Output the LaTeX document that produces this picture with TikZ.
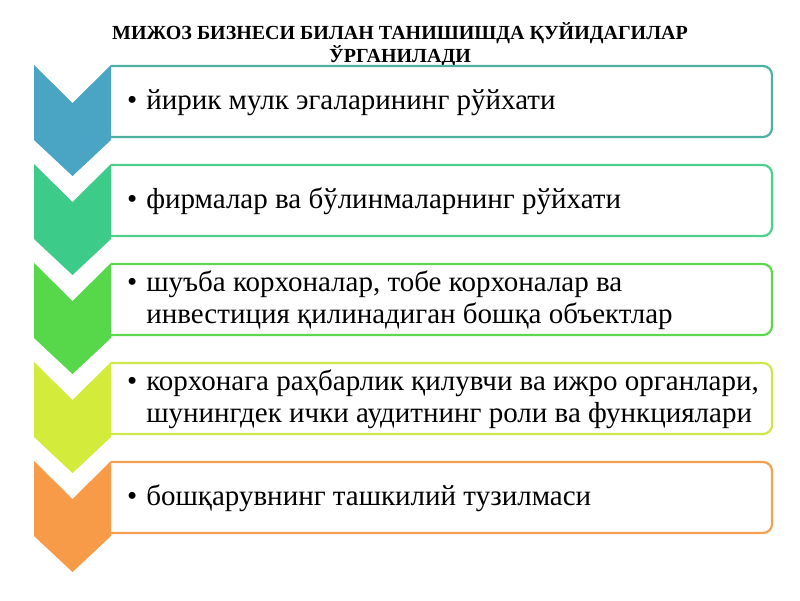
\documentclass[tikz,border=0pt]{standalone}
\usepackage{fontspec}
\setmainfont{Liberation Serif}
\begin{document}
\begin{tikzpicture}[x=1pt,y=-1pt,
  itembox/.style={draw=#1,line width=2.2pt,fill=white,rounded corners=9pt},
  itemtext/.style={anchor=west,inner sep=0pt,font=\fontsize{29}{32}\selectfont},
]
\definecolor{cA}{HTML}{4AA5C4}\definecolor{bA}{HTML}{4FB0A2}
\definecolor{cB}{HTML}{3DCB8A}\definecolor{bB}{HTML}{4ED08C}
\definecolor{cC}{HTML}{57D84B}\definecolor{bC}{HTML}{5FD64F}
\definecolor{cD}{HTML}{D3EB3A}\definecolor{bD}{HTML}{CDE84A}
\definecolor{cE}{HTML}{F89B48}\definecolor{bE}{HTML}{F4A050}
\useasboundingbox (0,0) rectangle (800,600);
\node[font=\bfseries\fontsize{20}{23}\selectfont,align=center] (title) at (400,45)
  {МИЖОЗ БИЗНЕСИ БИЛАН ТАНИШИШДА ҚУЙИДАГИЛАР\\ЎРГАНИЛАДИ};
\foreach \T/\c/\b in {65/cA/bA,164/cB/bB,263/cC/bC,362/cD/bD,461/cE/bE}{
  \path[itembox=\b] (111,\T+1) -- (772,\T+1) -- (772,\T+72) -- (111,\T+72);
  \fill[\c] (34,\T) -- (72.5,\T+38) -- (111,\T) -- (111,\T+75) -- (72.5,\T+111) -- (34,\T+75) -- cycle;
}
\node[itemtext] (t1) at (127,103) {\begin{tabular}{@{}l@{\hspace{9pt}}l@{}}•&йирик мулк эгаларининг рўйхати\end{tabular}};
\node[itemtext] (t2) at (127,202) {\begin{tabular}{@{}l@{\hspace{9pt}}l@{}}•&фирмалар ва бўлинмаларнинг рўйхати\end{tabular}};
\node[itemtext] (t3) at (127,301) {\begin{tabular}{@{}l@{\hspace{9pt}}l@{}}•&шуъба корхоналар, тобе корхоналар ва\\&инвестиция қилинадиган бошқа объектлар\end{tabular}};
\node[itemtext] (t4) at (127,400) {\begin{tabular}{@{}l@{\hspace{9pt}}l@{}}•&корхонага раҳбарлик қилувчи ва ижро органлари,\\&шунингдек ички аудитнинг роли ва функциялари\end{tabular}};
\node[itemtext] (t5) at (127,499) {\begin{tabular}{@{}l@{\hspace{9pt}}l@{}}•&бошқарувнинг ташкилий тузилмаси\end{tabular}};
\end{tikzpicture}
\end{document}
